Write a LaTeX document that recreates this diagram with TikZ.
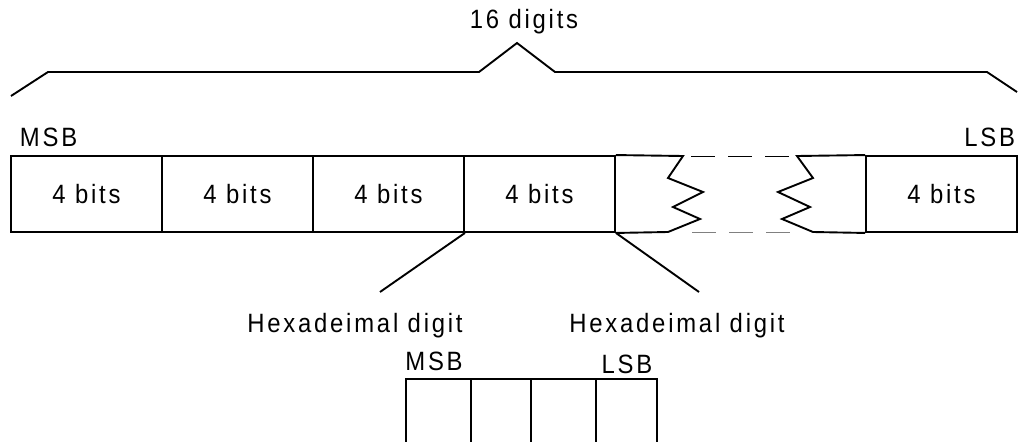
\documentclass[tikz,border=0pt]{standalone}
\usepackage{fontspec}
\setmainfont{Liberation Sans}[FakeStretch=0.9,LetterSpace=10.5]

\begin{document}
\begin{tikzpicture}[x=1pt,y=-1pt,line width=1.9pt,font=\fontsize{26.5}{30}\selectfont]
                \useasboundingbox (0,0) rectangle (1018,442);
                \foreach \x/\n/\t in {86.5/c1/4 bits, 237.5/c2/4 bits, 388.5/c3/4 bits, 539.5/c4/4 bits, 941.5/c6/4 bits}
                \node[inner sep=0mm,draw,minimum width=151pt,minimum height=76pt] (\n) at (\x,194) {\t};
                % broken middle part
                \draw (c4.north east) -- (683,156) -- (668,178) -- (703,192) -- (673,207) -- (700,219) -- (668,232) -- (c4.south east);
                \draw (c6.north west) -- (797,156) -- (813,178) -- (778,192) -- (810,207) -- (782,219) -- (813,232) -- (c6.south west);
                \draw[line width=1pt,dash pattern=on 24pt off 13pt] (691,156) -- (797,156);
                \draw[line width=1pt,gray,dash pattern=on 24pt off 13pt] (692,232) -- (797,232);
                % brace
                \draw (11,96) -- (48,72) -- (479,72) -- (517,43) -- (555,72) -- (987,72) -- (1017,92);
                \node (top) at (524,22) {16 digits};
                \node[anchor=west,inner sep=0mm] (msb) at (19,137) {MSB};
                \node[anchor=east,inner sep=0mm] (lsb) at (1016,137) {LSB};
                % hex digits
                \foreach \x/\n in {355/h1, 677/h2}
                \node (\n) at (\x,326) {Hexadeimal digit};
                \draw (c3.south east) -- (380,292);
                \draw (c4.south east) -- (699,292);
                % one digit
                \draw (406,442) -- (406,379) -- (657,379) -- (657,442);
                \foreach \x in {471, 531, 596}
                \draw (\x,379) -- (\x,442);
                \node (smsb) at (434,361) {MSB};
                \node (slsb) at (627,364) {LSB};
            \end{tikzpicture}
\end{document}
